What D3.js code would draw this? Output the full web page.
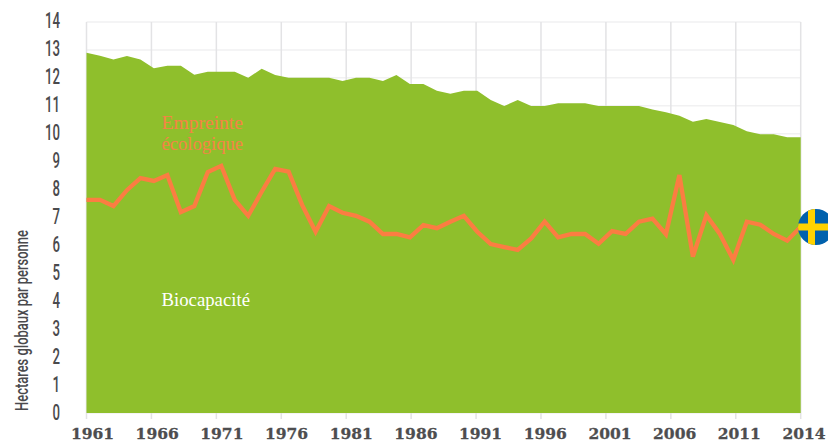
<!DOCTYPE html>
<html>
<head>
<meta charset="utf-8">
<title>Empreinte et biocapacité</title>
<script src="https://d3js.org/d3.v7.min.js"></script>
<style>
    html, body { margin: 0; padding: 0; background: #fff; overflow: hidden; }
    svg { display: block; }
    .ytick { font-family: "Roboto", sans-serif; font-weight: 500; font-size: 22px; fill: #4a4a4d; }
    .xtick { font-family: "DejaVu Serif", serif; font-weight: bold; font-size: 15.5px; fill: #4d4d4f; stroke: #4d4d4f; stroke-width: 0.3px; }
    .ytitle { font-family: "Roboto", sans-serif; font-weight: 500; font-size: 18px; fill: #4a4a4d; }
    .lab { font-family: "Liberation Serif", serif; font-size: 18px; }
</style>
</head>
<body>
<svg id="chart" width="828" height="443"></svg>
<script>
    var biocapacite = [12.90, 12.79, 12.66, 12.78, 12.66, 12.34, 12.43, 12.43, 12.11, 12.22,
        12.22, 12.22, 12.00, 12.33, 12.10, 12.00, 12.00, 12.00, 12.00, 11.89,
        12.00, 12.00, 11.89, 12.10, 11.78, 11.78, 11.54, 11.43, 11.54, 11.54,
        11.21, 10.99, 11.21, 10.99, 10.99, 11.09, 11.09, 11.09, 10.99, 10.99,
        10.99, 10.99, 10.87, 10.77, 10.64, 10.43, 10.53, 10.42, 10.31, 10.09,
        9.98, 9.98, 9.87, 9.87];
    var empreinte = [7.63, 7.63, 7.41, 7.98, 8.41, 8.31, 8.52, 7.19, 7.41, 8.63,
        8.85, 7.63, 7.06, 7.92, 8.74, 8.64, 7.45, 6.49, 7.41, 7.17,
        7.06, 6.85, 6.41, 6.41, 6.29, 6.73, 6.62, 6.85, 7.06, 6.49,
        6.05, 5.94, 5.84, 6.25, 6.85, 6.29, 6.41, 6.41, 6.06, 6.51,
        6.41, 6.85, 6.96, 6.40, 8.52, 5.60, 7.08, 6.41, 5.48, 6.85,
        6.74, 6.41, 6.17, 6.67];
    var xLabels = ["1961", "1966", "1971", "1976", "1981", "1986", "1991", "1996", "2001", "2006", "2011", "2014"];
    var yTicks = d3.range(0, 15);

    var left = 86.5, right = 800.7, top_ = 22, bottom = 413;
    var svg = d3.select("#chart");

    var x = d3.scaleLinear().domain([0, biocapacite.length - 1]).range([left, right]);
    // the axis labels sit at even steps, they do not follow the data years
    var xTick = d3.scalePoint().domain(xLabels).range([left, right]);
    var xText = d3.scalePoint().domain(xLabels).range([92.5, 804]);
    var y = d3.scaleLinear().domain([0, 14]).range([bottom, top_]);
    var yText = d3.scaleLinear().domain([0, 14]).range([412, 20]);

    // grid
    svg.selectAll(".hgrid").data(yTicks).enter().append("line")
        .attr("x1", left).attr("x2", right)
        .attr("y1", function(d){ return y(d); })
        .attr("y2", function(d){ return y(d); })
        .attr("stroke", "#f1f1f2").attr("stroke-width", 1.5);
    svg.selectAll(".vgrid").data(xLabels).enter().append("line")
        .attr("x1", function(d){ return xTick(d); })
        .attr("x2", function(d){ return xTick(d); })
        .attr("y1", top_).attr("y2", bottom + 6)
        .attr("stroke", "#e3e3e5").attr("stroke-width", 1.5);

    // biocapacity area
    var area = d3.area()
        .x(function(d, i){ return x(i); })
        .y0(y(0))
        .y1(function(d){ return y(d); });
    svg.append("path").datum(biocapacite)
        .attr("d", area)
        .attr("fill", "#8fbf2c");

    // footprint line
    var line = d3.line()
        .x(function(d, i){ return x(i); })
        .y(function(d){ return y(d); });
    svg.append("path").datum(empreinte)
        .attr("d", line)
        .attr("fill", "none")
        .attr("stroke", "#fb7d42")
        .attr("stroke-width", 4.3);

    // no condensed font on the machine, so squeeze the digits
    svg.selectAll(".ytick").data(yTicks).enter().append("text")
        .attr("class", "ytick")
        .attr("transform", function(d){ return "translate(60," + yText(d) + ") scale(0.6,1)"; })
        .attr("dy", "0.36em")
        .attr("text-anchor", "end")
        .text(function(d){ return d; });
    svg.selectAll(".xtick").data(xLabels).enter().append("text")
        .attr("class", "xtick")
        .attr("x", function(d){ return xText(d); })
        .attr("y", 439)
        .attr("text-anchor", "middle")
        .text(function(d){ return d; });

    svg.append("text").attr("class", "ytitle")
        .attr("transform", "translate(28,411) rotate(-90)")
        .attr("textLength", 181)
        .attr("lengthAdjust", "spacingAndGlyphs")
        .text("Hectares globaux par personne");

    // labels inside the chart
    svg.append("text").attr("class", "lab").attr("x", 161.5).attr("y", 129)
        .attr("textLength", 81.5).attr("lengthAdjust", "spacingAndGlyphs")
        .attr("fill", "#f58345").text("Empreinte");
    svg.append("text").attr("class", "lab").attr("x", 161.5).attr("y", 150)
        .attr("textLength", 81.5).attr("lengthAdjust", "spacingAndGlyphs")
        .attr("fill", "#f58345").text("écologique");
    svg.append("text").attr("class", "lab").attr("x", 161.5).attr("y", 306)
        .attr("textLength", 88.5).attr("lengthAdjust", "spacingAndGlyphs")
        .attr("fill", "#ffffff").text("Biocapacité");

    // Swedish flag
    var cx = 816, cy = 227, r = 18;
    svg.append("clipPath").attr("id", "flagClip")
        .append("circle").attr("cx", cx).attr("cy", cy).attr("r", r);
    var flag = svg.append("g").attr("clip-path", "url(#flagClip)");
    flag.append("rect").attr("x", cx - r).attr("y", cy - r).attr("width", 2 * r).attr("height", 2 * r).attr("fill", "#0061ad");
    flag.append("rect").attr("x", cx - r).attr("y", cy - 3.5).attr("width", 2 * r).attr("height", 7).attr("fill", "#ffd200");
    flag.append("rect").attr("x", cx - 8).attr("y", cy - r).attr("width", 7).attr("height", 2 * r).attr("fill", "#ffd200");
</script>
</body>
</html>
